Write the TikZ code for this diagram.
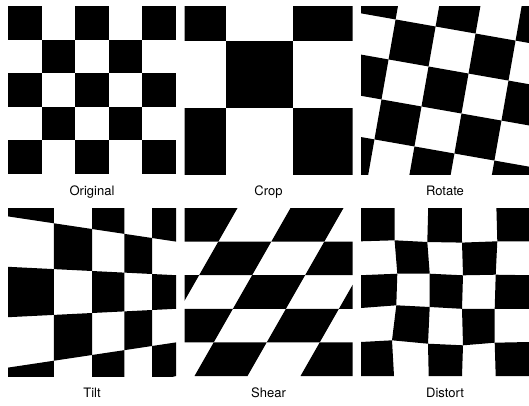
\documentclass[tikz,border=0pt]{standalone}
\usepackage{fontspec}
\setmainfont{TeX Gyre Heros}
\begin{document}
\begin{tikzpicture}[x=1pt, y=-1pt,
    imgtitle/.style={font=\fontsize{13}{15}\selectfont, anchor=base, inner sep=0pt},
    declare function={
      tiltx(\a)=8+504*\a/(\a+10);
      tilty(\a,\b)=292+(33.6*\b-84)*15/(\a+10);
    }]
    \useasboundingbox (0,0) rectangle (529,405);
    \fill[white] (0,0) rectangle (529,405);

    % Исходная доска 5x5
    \foreach \i in {0,...,4}
      \foreach \j in {0,...,4} {
        \pgfmathtruncatemacro\s{\i+\j}
        \ifodd\s\else
          \fill ({8+33.6*\i},{6+33.6*\j}) rectangle ++(33.6,33.6);
        \fi
      }
    \node[imgtitle] (orig) at (92,195.5) {Original};

    % Кадрирование: крупные клетки
    \begin{scope}
      \clip (184.5,6) rectangle (352.5,174);
      \foreach \i in {0,...,3}
        \foreach \j in {0,...,3} {
          \pgfmathtruncatemacro\s{\i+\j}
          \ifodd\s\else
            \fill ({159+67*\i},{-26.3+67*\j}) rectangle ++(67,67);
          \fi
        }
    \end{scope}
    \node[imgtitle] (crop) at (268.5,195.5) {Crop};

    % Поворот на 10 градусов вокруг центра
    \begin{scope}
      \clip (361,6) rectangle (529,174);
      \begin{scope}[shift={(445,90)}, rotate=-10]
        \foreach \i in {-4,...,4}
          \foreach \j in {-4,...,4} {
            \pgfmathtruncatemacro\s{\i+\j}
            \ifodd\s\else
              \fill ({40.6*\i-20.3},{40.6*\j-20.3}) rectangle ++(40.6,40.6);
            \fi
          }
      \end{scope}
    \end{scope}
    \node[imgtitle] (rot) at (445,195.5) {Rotate};

    % Перспектива: левый край растянут в 1.5 раза
    \begin{scope}
      \clip (8,208) rectangle (176,376);
      \foreach \i in {0,...,4}
        \foreach \j in {0,...,4} {
          \pgfmathtruncatemacro\s{\i+\j}
          \pgfmathtruncatemacro\ii{\i+1}
          \pgfmathtruncatemacro\jj{\j+1}
          \ifodd\s\else
            \fill ({tiltx(\i)},{tilty(\i,\j)}) -- ({tiltx(\ii)},{tilty(\ii,\j)})
              -- ({tiltx(\ii)},{tilty(\ii,\jj)}) -- ({tiltx(\i)},{tilty(\i,\jj)}) -- cycle;
          \fi
        }
    \end{scope}
    \node[imgtitle] (tilt) at (92,397.5) {Tilt};

    % Сдвиг: параллелограммы
    \begin{scope}
      \clip (184.5,208) rectangle (352.5,376);
      \foreach \i in {0,...,4}
        \foreach \j in {0,...,4} {
          \pgfmathtruncatemacro\s{\i+\j}
          \ifodd\s\else
            \fill ({184.5+53*\i-19.2*\j},{208+33.6*\j}) -- ++(53,0)
              -- ++(-19.2,33.6) -- ++(-53,0) -- cycle;
          \fi
        }
    \end{scope}
    \node[imgtitle] (shear) at (268.5,397.5) {Shear};

    % Искажение: узлы сетки со смещениями
    \foreach \i in {0,...,5}
      \foreach \j in {0,...,5}
        \coordinate (d-\i-\j) at ({361+33.6*\i},{208+33.6*\j});
    \foreach \i/\j/\dx/\dy in {4/0/1/0, 0/1/0/-0.3, 1/1/0/-1.3, 2/1/-0.9/0.4,
        3/1/0.2/1, 4/1/1.9/-0.3, 5/1/0/-0.3, 1/2/2.7/-1.5, 2/2/1.5/-1.5,
        3/2/1.2/0.1, 4/2/0.3/-0.5, 0/3/0/-0.8, 1/3/1.7/-3.5, 2/3/1.5/-1.8,
        3/3/0.2/0, 4/3/-0.7/0, 0/4/0/-0.4, 1/4/-2.6/-2.1, 2/4/-0.2/1.3,
        3/4/1.2/2.9, 4/4/-0.7/0.3, 5/4/0/-0.4, 1/5/-0.6/0, 2/5/0.5/0,
        3/5/0.2/0, 4/5/0.3/0}
      \coordinate (d-\i-\j) at ({361+33.6*\i+\dx},{208+33.6*\j+\dy});
    \foreach \i in {0,...,4}
      \foreach \j in {0,...,4} {
        \pgfmathtruncatemacro\s{\i+\j}
        \pgfmathtruncatemacro\ii{\i+1}
        \pgfmathtruncatemacro\jj{\j+1}
        \ifodd\s\else
          \fill (d-\i-\j) -- (d-\ii-\j) -- (d-\ii-\jj) -- (d-\i-\jj) -- cycle;
        \fi
      }
    \node[imgtitle] (dist) at (445,397.5) {Distort};
\end{tikzpicture}
\end{document}
